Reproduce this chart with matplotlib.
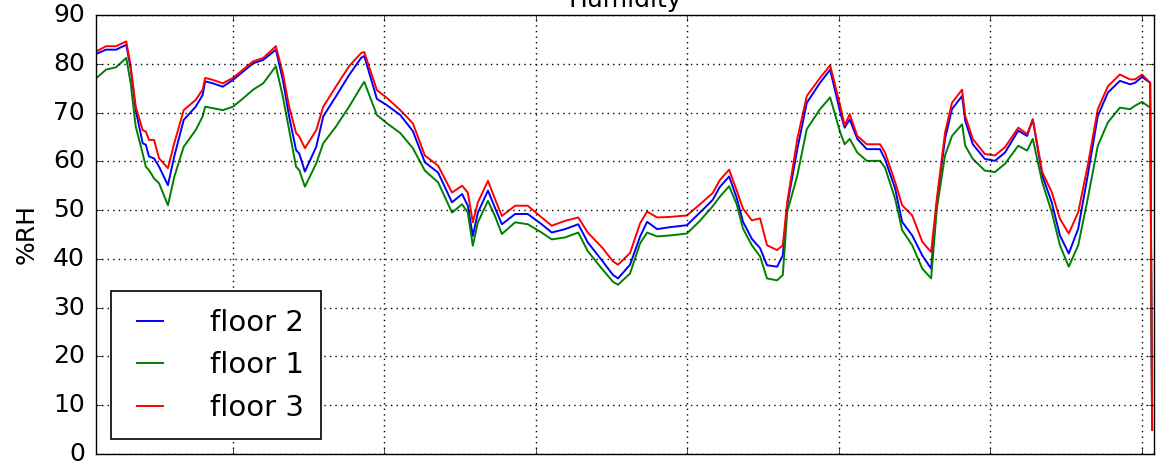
import matplotlib
matplotlib.use("Agg")
import matplotlib.pyplot as plt


# Zeit in Stunden ab Mitternacht des ersten Tages
hours = [
    2.3, 3.9, 5.5, 7.1, 7.8, 8.6, 9.7, 10.2, 10.7, 11.5, 12.3, 13.7, 14.7, 16.2,
    18.1, 19.2, 19.6, 20.8, 22.4, 24.0, 25.6, 27.2, 28.8, 30.8, 31.9, 32.9, 34.0,
    34.5, 35.4, 37.2, 38.3, 40.3, 42.4, 44.3, 44.8, 46.8, 48.4, 50.5, 52.5, 54.4,
    56.5, 58.7, 60.3, 61.2, 62.0, 62.8, 64.4, 65.5, 66.6, 68.7, 70.7, 72.9, 74.5,
    76.6, 78.7, 80.2, 82.5, 84.2, 85.0, 86.9, 88.5, 89.6, 91.2, 93.2, 95.9, 97.9,
    100.0, 101.1, 102.6, 103.8, 104.8, 106.2, 107.5, 108.6, 110.2, 111.1, 111.8,
    113.4, 114.9, 117.0, 118.6, 120.2, 120.9, 121.7, 122.9, 124.4, 126.5, 127.3,
    128.9, 130.0, 131.6, 133.2, 134.6, 135.5, 136.8, 137.9, 139.5, 140.0, 141.2,
    143.1, 144.7, 146.3, 148.4, 149.8, 150.7, 152.2, 153.7, 155.0, 156.4, 157.9,
    159.4, 161.0, 162.6, 164.5, 166.1, 166.9, 168.0, 169.3, 169.6,
]

floor3 = [
    82.5, 83.6, 83.6, 84.6, 79.5, 71.2, 66.4, 66.1, 64.4, 64.4, 60.6, 58.6, 63.7, 70.5,
    72.6, 74.7, 77.1, 76.7, 76.0, 77.1, 78.8, 80.5, 81.2, 83.6, 78.1, 71.2, 65.8,
    65.1, 62.7, 66.4, 71.2, 75.3, 79.5, 82.2, 82.4, 74.6, 73.0, 70.5, 67.8, 61.2,
    59.1, 53.6, 55.0, 53.6, 47.5, 51.6, 56.0, 52.3, 48.8, 50.9, 50.9, 48.5, 46.8,
    47.8, 48.5, 45.4, 42.3, 39.5, 38.8, 41.2, 47.3, 49.7, 48.5, 48.6, 48.9, 51.1,
    53.5, 56.1, 58.3, 54.0, 50.3, 47.9, 48.3, 42.8, 41.8, 42.8, 51.6,
    64.6, 73.4, 77.1, 79.7, 71.4, 67.3, 69.7, 65.2, 63.5, 63.5, 61.8,
    55.7, 51.0, 48.9, 43.5, 41.4, 52.3, 65.9, 72.0, 74.7, 69.3, 64.6,
    61.5, 61.2, 62.9, 66.9, 65.6, 68.6, 57.8, 53.7, 48.2, 45.2, 49.6,
    59.1, 70.7, 75.4, 77.8, 76.8, 76.8, 77.8, 76.1, 5.0,
]

floor2 = [
    82.0, 82.9, 82.9, 83.9, 79.0, 70.5, 63.7, 63.4, 61.0, 60.6, 58.9, 55.1, 61.0, 68.5,
    71.2, 73.6, 76.4, 76.0, 75.3, 76.7, 78.4, 80.1, 80.8, 82.9, 76.7, 69.2, 62.3,
    61.6, 57.9, 63.0, 69.2, 73.3, 77.7, 81.2, 81.6, 72.8, 71.5, 69.5, 66.2, 59.8,
    57.7, 51.6, 53.3, 50.9, 44.7, 49.5, 54.0, 50.5, 47.1, 49.2, 49.2, 47.1, 45.4,
    46.1, 47.1, 43.4, 39.6, 36.7, 36.0, 38.8, 44.6, 47.6, 46.1, 46.5, 46.9, 49.4,
    52.1, 54.7, 56.9, 52.5, 47.6, 44.1, 42.2, 38.7, 38.4, 40.7, 51.0,
    62.5, 72.0, 76.1, 78.8, 70.0, 66.9, 68.6, 64.6, 62.5, 62.5, 60.4,
    54.4, 47.6, 44.8, 40.7, 38.0, 51.6, 64.6, 70.7, 73.4, 68.3, 63.5,
    60.5, 60.1, 61.8, 66.3, 65.2, 68.6, 57.1, 51.6, 44.8, 41.1, 46.2,
    57.1, 69.3, 74.1, 76.5, 75.8, 76.1, 77.3, 76.1, 5.0,
]

floor1 = [
    77.0, 78.8, 79.3, 81.2, 76.0, 67.1, 61.6, 58.9, 58.2, 56.5, 55.5, 51.0, 56.8, 63.0,
    66.4, 69.2, 71.2, 70.9, 70.5, 71.2, 72.9, 74.7, 76.0, 79.5, 73.3, 66.4, 58.9,
    58.2, 54.8, 59.6, 63.7, 67.1, 71.2, 75.3, 76.3, 69.5, 67.8, 65.8, 62.7, 58.1,
    55.7, 49.5, 51.2, 49.5, 42.7, 47.5, 51.9, 48.8, 45.1, 47.5, 47.1, 45.4, 44.0,
    44.4, 45.4, 41.6, 37.9, 35.3, 34.7, 37.0, 43.2, 45.4, 44.6, 44.8, 45.2, 47.7,
    50.8, 52.7, 54.9, 51.2, 46.2, 42.8, 40.5, 36.0, 35.6, 36.7, 49.6,
    57.1, 66.6, 70.7, 73.1, 65.9, 63.5, 64.6, 61.8, 60.1, 60.1, 58.7,
    52.3, 45.9, 42.8, 38.0, 36.0, 50.3, 61.2, 65.2, 67.6, 63.2, 60.5,
    58.1, 57.8, 59.5, 63.2, 62.2, 64.6, 55.7, 49.6, 42.8, 38.4, 42.8,
    52.3, 63.2, 68.0, 71.0, 70.7, 71.4, 72.2, 71.0, 5.0,
]

series = [("floor 2", floor2, "b"), ("floor 1", floor1, "g"), ("floor 3", floor3, "r")]
day_ticks = [24, 48, 72, 96, 120, 144, 168]

plt.style.use("classic")
plt.rcParams["figure.facecolor"] = "white"
plt.rcParams["savefig.facecolor"] = "white"

fig = plt.figure(figsize=(11.66, 4.69), dpi=100)
ax = fig.add_axes([0.0823, 0.032, 0.9074, 0.936])

for name, vals, col in series:
    ax.plot(hours, vals, color=col, lw=1.4, label=name)

ax.set_xlim(2.3, 169.9)
ax.set_ylim(0, 90)
ax.set_yticks(range(0, 91, 10))
ax.set_xticks(day_ticks)
ax.set_xticklabels([])
ax.tick_params(labelsize=18, pad=8)
ax.grid(True, color="k", linestyle=":", linewidth=1)
ax.set_ylabel("%RH", fontsize=18, labelpad=10)
ax.set_title("Humidity", fontsize=18, pad=6)

leg = ax.legend(loc="lower left", fontsize=21, handlelength=1.5,
                handletextpad=1.3, borderpad=0.6, labelspacing=0.5)
leg.get_frame().set_linewidth(1.2)

fig.savefig("out.png", dpi=100)
